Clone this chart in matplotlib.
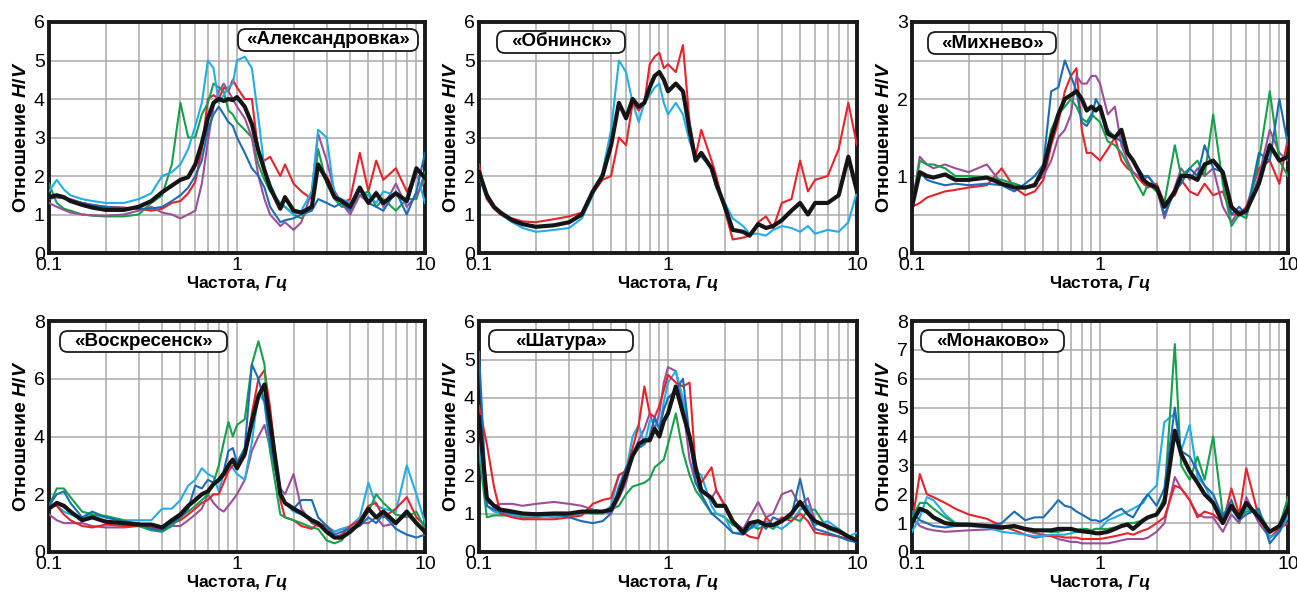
import matplotlib
matplotlib.use("Agg")
import matplotlib.pyplot as plt
from matplotlib.patches import FancyBboxPatch
from matplotlib.ticker import MultipleLocator, FixedLocator, NullFormatter, LogLocator

plt.rcParams['font.family'] = ['Liberation Sans', 'DejaVu Sans']
plt.rcParams['mathtext.fontset'] = 'custom'
plt.rcParams['mathtext.it'] = 'Liberation Sans:italic:bold'
plt.rcParams['mathtext.rm'] = 'Liberation Sans:bold'
plt.rcParams['mathtext.bf'] = 'Liberation Sans:bold'

freq = [0.1, 0.11, 0.12, 0.13, 0.15, 0.17, 0.2, 0.25, 0.3, 0.35, 0.4, 0.45, 0.5, 0.55,
        0.6, 0.65, 0.7, 0.75, 0.8, 0.85, 0.9, 0.95, 1.0, 1.1, 1.2, 1.3, 1.4, 1.5, 1.7,
        1.8, 2.0, 2.2, 2.5, 2.7, 3.0, 3.3, 3.6, 4.0, 4.5, 5.0, 5.5, 6.0, 7.0, 8.0, 9.0, 10.0]

station_names = ["«Александровка»", "«Обнинск»", "«Михнево»",
                 "«Воскресенск»", "«Шатура»", "«Монаково»"]
y_max = [6, 6, 3, 8, 6, 8]

# --- «Александровка»
alex_red = [1.45,1.45,1.42,1.4,1.3,1.25,1.2,1.18,1.15,1.1,1.15,1.3,1.35,1.55,1.85,2.7,4.0,4.1,4.0,4.3,4.2,4.5,4.3,4.0,4.0,2.6,2.4,2.5,2.0,2.3,1.8,1.6,1.4,2.2,2.0,1.6,1.3,1.4,2.6,1.6,2.4,1.9,2.2,1.6,2.0,2.0]
alex_green = [1.8,1.3,1.15,1.1,1.0,0.97,0.95,0.95,1.0,1.3,1.5,2.3,3.9,3.0,3.0,3.6,3.9,4.4,4.3,4.2,3.7,3.6,3.4,3.2,3.0,2.3,1.9,1.6,1.3,1.2,1.0,0.9,1.2,2.7,1.8,1.4,1.2,1.2,1.5,1.6,1.2,1.4,1.1,1.4,1.4,2.1]
alex_blue = [1.4,1.45,1.42,1.38,1.3,1.25,1.2,1.17,1.15,1.15,1.2,1.35,1.5,1.7,2.0,2.4,3.2,3.6,3.8,3.6,3.4,3.3,3.0,2.6,2.2,2.0,1.7,1.2,0.8,0.85,0.9,1.0,1.1,1.4,1.3,1.2,1.3,1.1,1.7,1.3,1.2,1.1,1.6,1.0,1.6,2.6]
alex_cyan = [1.6,1.9,1.65,1.5,1.4,1.35,1.3,1.3,1.4,1.55,2.0,2.1,2.3,2.7,3.3,3.9,5.0,4.8,3.9,4.1,4.3,4.4,5.0,5.1,4.8,3.5,2.2,1.8,1.2,1.2,1.0,1.1,1.6,3.2,3.0,1.5,1.4,1.3,1.6,1.5,1.3,1.6,1.5,1.3,2.1,1.3]
alex_purple = [1.3,1.2,1.12,1.05,1.0,0.98,0.97,1.0,1.1,1.2,1.05,1.0,0.9,1.0,1.1,1.8,2.9,3.8,4.2,4.4,4.2,4.0,3.8,3.5,3.0,2.0,1.4,1.0,0.7,0.8,0.6,0.8,1.6,3.1,2.4,1.6,1.3,1.0,1.5,1.3,1.6,1.2,1.8,1.2,1.5,1.9]
alex_mean = [1.45,1.5,1.45,1.35,1.25,1.18,1.12,1.12,1.2,1.35,1.58,1.75,1.9,1.97,2.3,2.85,3.5,3.9,4.0,3.95,4.0,3.97,4.05,3.8,3.35,2.65,2.15,1.7,1.15,1.45,1.1,1.05,1.2,2.3,1.9,1.45,1.35,1.2,1.7,1.3,1.55,1.3,1.55,1.35,2.2,1.95]

# --- «Обнинск»
obn_red = [2.3,1.4,1.15,1.0,0.9,0.82,0.8,0.88,0.95,1.05,1.55,1.9,2.0,3.0,2.8,3.9,3.7,3.9,4.9,5.1,5.2,4.8,4.9,4.7,5.4,3.4,2.5,3.2,2.4,2.0,1.1,0.35,0.4,0.45,0.8,0.95,0.65,1.3,1.4,2.4,1.6,1.9,2.0,2.7,3.9,2.8]
obn_cyan = [2.0,1.4,1.2,1.0,0.8,0.65,0.55,0.6,0.65,0.9,1.5,2.1,3.2,5.0,4.7,3.9,3.4,3.9,4.1,4.3,4.4,3.9,3.6,3.9,3.6,2.9,2.5,2.5,2.2,1.7,1.3,0.9,0.7,0.5,0.5,0.45,0.6,0.7,0.65,0.55,0.7,0.5,0.6,0.55,0.8,1.6]
obn_mean = [2.1,1.5,1.2,1.05,0.85,0.75,0.68,0.72,0.8,1.0,1.6,2.0,2.8,3.9,3.5,4.0,3.8,3.9,4.3,4.6,4.7,4.5,4.2,4.4,4.2,3.2,2.4,2.6,2.2,1.8,1.2,0.6,0.55,0.45,0.75,0.65,0.7,0.85,1.1,1.3,1.0,1.3,1.3,1.5,2.5,1.6]

# --- «Михнево»
mikh_red = [0.6,0.65,0.72,0.75,0.8,0.82,0.85,0.88,1.1,0.85,0.75,0.8,0.95,1.4,1.7,2.1,2.3,2.4,1.6,1.3,1.3,1.25,1.2,1.35,1.5,1.2,1.1,1.05,0.9,0.85,0.9,0.65,0.75,0.95,0.8,0.75,0.9,0.75,0.8,0.5,0.5,0.6,1.1,1.2,0.9,1.5]
mikh_green = [0.6,1.2,1.15,1.15,1.1,1.0,1.0,0.98,0.95,0.9,0.85,0.88,1.1,1.6,1.8,1.9,2.0,1.9,1.75,1.7,1.8,1.75,1.7,1.45,1.4,1.3,1.15,1.0,0.75,0.9,0.8,0.65,1.4,1.0,1.1,1.2,1.0,1.8,0.9,0.35,0.5,0.45,1.2,2.1,1.2,1.0]
mikh_blue = [0.6,1.05,0.95,0.92,0.88,0.9,0.88,0.9,0.88,0.8,0.9,1.0,1.15,2.1,2.15,2.5,2.3,2.1,1.7,1.65,1.75,2.0,1.9,1.6,1.5,1.45,1.3,1.2,1.0,1.0,0.85,0.5,0.8,0.9,1.1,1.0,1.4,1.1,1.05,0.5,0.6,0.5,1.3,1.2,2.0,1.4]
mikh_purple = [0.6,1.25,1.15,1.1,1.15,1.1,1.05,1.15,0.9,0.9,0.85,0.9,1.0,1.2,1.5,1.6,1.8,2.3,2.2,2.2,2.3,2.3,2.2,1.8,1.9,1.4,1.2,1.05,0.95,1.0,0.85,0.45,0.85,1.1,0.95,1.1,1.0,1.1,0.6,0.4,0.55,0.5,1.0,1.6,1.3,1.2]
mikh_mean = [0.6,1.05,1.0,0.98,1.02,0.95,0.95,0.98,0.9,0.85,0.85,0.88,1.1,1.5,1.8,2.0,2.05,2.1,2.0,1.85,1.9,1.85,1.9,1.55,1.5,1.6,1.3,1.2,0.95,0.9,0.85,0.6,0.8,1.0,1.0,0.95,1.15,1.2,1.05,0.6,0.5,0.55,0.9,1.4,1.2,1.25]

# --- «Воскресенск»
vosk_red = [1.6,1.6,1.3,1.1,0.9,0.85,0.95,0.9,0.9,0.85,0.8,1.0,1.1,1.3,1.5,1.7,1.8,2.0,2.0,2.4,2.8,3.0,3.0,3.3,4.8,6.0,6.3,5.0,1.8,1.2,1.1,0.9,0.8,1.0,0.9,0.5,0.6,0.9,1.1,1.6,1.7,1.2,1.5,1.9,1.2,0.9]
vosk_green = [1.6,2.2,2.2,1.9,1.4,1.3,1.25,1.1,0.9,0.75,0.7,0.9,1.2,1.4,1.6,1.8,2.0,2.4,3.0,3.8,4.5,4.0,4.4,4.6,6.5,7.3,6.5,3.5,1.3,1.2,1.1,1.0,0.85,0.8,0.4,0.3,0.4,0.8,1.0,1.4,2.0,1.7,1.3,1.2,1.4,0.8]
vosk_blue = [1.6,2.0,2.1,1.7,1.2,1.4,1.2,1.05,1.0,0.8,0.75,1.0,1.2,1.5,2.3,2.2,2.5,2.4,2.5,2.8,3.5,3.6,3.1,3.6,6.5,6.0,5.2,3.8,2.0,1.7,1.5,1.8,1.8,1.2,0.9,0.6,0.7,0.8,0.9,1.2,1.0,1.3,0.8,0.6,0.5,0.6]
vosk_cyan = [1.6,1.6,1.4,1.3,1.2,1.3,1.2,1.1,1.1,1.1,1.5,1.5,1.8,2.3,2.5,2.9,2.7,2.6,2.1,2.7,3.0,2.9,2.7,2.5,3.8,5.5,5.2,3.5,2.2,1.7,1.4,1.3,1.1,1.0,0.8,0.7,0.8,0.9,1.2,2.4,1.6,1.5,1.4,3.0,2.0,1.0]
vosk_purple = [1.3,1.1,1.0,1.0,1.0,0.9,0.85,0.85,0.9,0.85,0.8,0.9,0.9,1.1,1.3,1.5,2.0,1.7,1.5,1.4,1.6,1.8,2.0,2.5,3.5,4.0,4.4,3.6,2.2,2.0,2.7,1.5,1.0,0.9,0.9,0.7,0.8,0.8,1.0,1.0,1.2,0.9,1.0,1.3,1.0,0.7]
vosk_mean = [1.5,1.7,1.6,1.4,1.1,1.2,1.05,1.0,0.95,0.95,0.85,1.1,1.3,1.6,1.8,2.0,2.1,2.35,2.5,2.7,3.0,3.2,2.9,3.4,4.5,5.4,5.8,4.5,2.0,1.7,1.5,1.35,1.1,1.0,0.7,0.5,0.5,0.7,1.0,1.5,1.2,1.4,1.0,1.4,1.0,0.7]

# --- «Шатура»
shat_red = [3.8,2.8,1.7,1.0,0.9,0.85,0.85,0.85,0.9,0.95,1.25,1.35,1.4,2.0,2.1,2.7,3.3,4.3,3.6,3.5,3.8,4.2,4.6,4.4,4.3,4.4,2.2,1.8,2.2,1.6,1.2,0.8,0.5,0.4,0.35,0.9,0.7,0.9,0.8,1.0,0.8,0.5,0.45,0.4,0.35,0.3]
shat_green = [2.6,0.9,0.95,0.95,0.95,0.9,0.9,0.95,1.0,1.05,1.0,1.0,1.1,1.2,1.5,1.7,1.75,1.8,1.9,2.2,2.3,2.4,2.8,3.6,2.6,2.0,1.6,1.4,1.0,1.0,0.9,0.7,0.6,0.7,0.6,0.7,0.6,0.8,0.9,0.8,1.1,1.1,0.6,0.5,0.4,0.35]
shat_blue = [5.2,1.2,1.1,1.05,1.0,1.0,1.0,1.0,0.9,0.8,0.75,0.8,1.0,1.7,2.2,2.5,2.7,2.8,3.0,3.5,3.2,3.7,4.0,4.2,4.5,3.0,1.8,1.5,1.0,0.9,0.7,0.5,0.45,0.6,0.8,0.6,0.9,0.8,0.95,1.9,1.0,0.6,0.5,0.4,0.3,0.25]
shat_cyan = [2.8,1.2,1.05,1.0,0.95,0.95,0.95,0.9,0.95,1.0,1.1,1.0,1.2,2.0,2.1,3.0,3.3,2.8,3.4,3.4,3.2,3.9,4.4,4.7,4.0,3.0,2.1,2.0,1.2,1.0,0.9,0.5,0.5,0.6,0.7,0.8,0.7,0.6,0.8,1.1,1.2,0.7,0.8,0.6,0.4,0.5]
shat_purple = [3.0,1.3,1.2,1.25,1.25,1.2,1.25,1.3,1.25,1.2,1.1,1.05,1.0,1.4,1.8,2.5,2.9,3.2,3.6,3.2,3.6,4.4,4.8,4.7,3.8,2.4,1.8,1.6,1.4,1.6,1.2,0.8,0.6,0.9,1.3,0.9,1.0,1.5,1.6,1.2,1.4,0.8,0.7,0.5,0.4,0.3]
shat_mean = [3.5,1.4,1.2,1.1,1.05,1.0,0.98,1.0,1.0,1.05,1.05,1.05,1.1,1.5,2.0,2.5,2.8,2.9,2.9,3.2,3.0,3.4,3.6,4.3,3.6,3.0,2.2,1.6,1.4,1.2,1.2,0.8,0.5,0.75,0.8,0.7,0.7,0.8,1.0,1.3,1.0,0.8,0.65,0.55,0.4,0.3]

# --- «Монаково»
mon_red = [1.0,2.7,2.0,1.9,1.7,1.5,1.3,1.15,0.9,0.75,0.6,0.5,0.55,0.55,0.55,0.5,0.5,0.5,0.45,0.45,0.45,0.45,0.45,0.5,0.55,0.6,0.65,0.6,0.75,0.8,1.0,1.2,2.3,2.2,1.8,1.2,1.4,1.3,1.0,2.2,1.3,2.9,1.2,0.5,0.8,1.0]
mon_green = [1.2,1.7,1.7,1.5,1.2,1.0,0.95,0.9,0.85,0.85,0.8,0.7,0.75,0.7,0.7,0.75,0.8,0.75,0.8,0.8,0.75,0.8,0.8,0.8,0.85,0.9,1.0,1.0,1.1,1.2,1.3,1.9,7.2,3.0,2.5,3.3,2.5,4.0,1.3,1.6,1.2,1.4,1.4,0.7,0.9,1.9]
mon_blue = [1.4,1.1,1.0,0.9,0.85,0.9,0.9,0.9,1.0,1.4,1.1,1.2,1.2,1.5,1.8,1.6,1.55,1.4,1.3,1.2,1.1,1.1,1.05,1.2,1.4,1.5,1.3,1.2,1.8,2.0,1.6,2.2,5.0,3.5,3.3,2.8,2.3,2.0,1.2,1.8,1.1,1.3,1.5,0.3,0.7,1.4]
mon_cyan = [0.7,1.2,1.9,1.8,1.3,1.0,0.9,0.85,0.7,0.65,0.6,0.55,0.55,0.6,0.6,0.6,0.65,0.7,0.7,0.7,0.75,0.8,0.8,1.1,1.2,1.3,1.4,1.5,1.7,2.0,2.3,4.5,4.8,3.5,4.4,2.6,2.3,1.7,1.2,1.5,1.1,1.5,1.3,0.5,0.7,1.2]
mon_purple = [1.2,0.9,0.8,0.75,0.7,0.72,0.75,0.78,0.8,0.9,0.75,0.65,0.6,0.55,0.45,0.4,0.35,0.35,0.3,0.3,0.3,0.3,0.3,0.3,0.35,0.4,0.45,0.45,0.45,0.5,0.7,1.0,2.6,2.2,1.8,1.3,1.2,1.2,0.7,1.3,1.0,1.9,1.0,0.5,0.7,1.3]
mon_mean = [1.0,1.5,1.4,1.2,1.0,0.95,0.95,0.9,0.85,0.9,0.8,0.75,0.75,0.75,0.8,0.8,0.8,0.75,0.72,0.7,0.68,0.65,0.65,0.7,0.8,0.9,0.95,0.8,1.1,1.2,1.3,1.7,4.2,3.4,2.8,2.4,2.0,1.7,1.0,1.6,1.2,1.7,1.2,0.7,0.9,1.5]

colors = {"red": "#e8222b", "green": "#15a04b", "blue": "#1c6cb5",
          "cyan": "#22ade6", "purple": "#9b4e9a", "mean": "#151515"}

panels = [
    {"red": alex_red, "green": alex_green, "purple": alex_purple, "cyan": alex_cyan, "blue": alex_blue, "mean": alex_mean},
    {"cyan": obn_cyan, "red": obn_red, "mean": obn_mean},
    {"red": mikh_red, "purple": mikh_purple, "green": mikh_green, "blue": mikh_blue, "mean": mikh_mean},
    {"purple": vosk_purple, "cyan": vosk_cyan, "red": vosk_red, "green": vosk_green, "blue": vosk_blue, "mean": vosk_mean},
    {"green": shat_green, "purple": shat_purple, "cyan": shat_cyan, "red": shat_red, "blue": shat_blue, "mean": shat_mean},
    {"purple": mon_purple, "red": mon_red, "cyan": mon_cyan, "green": mon_green, "blue": mon_blue, "mean": mon_mean},
]

y_label_step = [1, 1, 1, 2, 1, 1]
y_grid_step = [1, 1, 0.5, 2, 1, 1]
# label boxes in figure pixels (x0, y0_top, x1, y1_top)
label_boxes = [(238, 29, 418, 51), (497, 31, 625, 53), (928, 32, 1056, 54),
               (60, 331, 227, 352), (489, 330, 633, 352), (921, 330, 1064, 352)]

W, H = 1297, 593
fig = plt.figure(figsize=(W / 100, H / 100), dpi=100)

col_left = [49, 479, 912]
col_w = [376, 378, 376]
row_top = [22, 321]
ax_h = 231

for i in range(6):
    r, c = divmod(i, 3)
    ax = fig.add_axes([col_left[c] / W, 1 - (row_top[r] + ax_h) / H, col_w[c] / W, ax_h / H])
    ax.set_xscale('log')
    ax.set_xlim(0.1, 10)
    ax.set_ylim(0, y_max[i])
    ax.xaxis.set_major_locator(FixedLocator([0.1, 1, 10]))
    ax.xaxis.set_minor_locator(LogLocator(base=10, subs=range(2, 10)))
    ax.xaxis.set_minor_formatter(NullFormatter())
    ax.set_xticklabels(['0.1', '1', '10'])
    ax.yaxis.set_major_locator(MultipleLocator(y_label_step[i]))
    ax.yaxis.set_minor_locator(MultipleLocator(y_grid_step[i]))
    ax.grid(True, which='both', color='#a9a9a9', linewidth=1.1)
    ax.set_axisbelow(True)
    ax.tick_params(which='both', length=0, labelsize=14)
    ax.tick_params(axis='x', pad=3)
    ax.tick_params(axis='y', pad=3)
    for s in ax.spines.values():
        s.set_linewidth(2.8)
        s.set_color('#1a1a1a')
    for key, vals in panels[i].items():
        if key == "mean":
            continue
        ax.plot(freq, vals, color=colors[key], linewidth=1.5, zorder=3)
    ax.plot(freq, panels[i]["mean"], color=colors["mean"], linewidth=3.0, zorder=4)
    ax.set_xlabel('Частота, $\\mathit{Гц}$', fontsize=12.5, fontweight='bold', labelpad=0)
    ax.set_ylabel('Отношение $\\mathit{H/V}$', fontsize=14, fontweight='bold', labelpad=3)

    x0, y0, x1, y1 = label_boxes[i]
    bx0, by0 = x0 / W, 1 - y1 / H
    bw, bh = (x1 - x0) / W, (y1 - y0) / H
    box = FancyBboxPatch((bx0, by0), bw, bh, transform=fig.transFigure,
                         boxstyle='round,pad=0,rounding_size=0.006',
                         mutation_aspect=W / H,
                         facecolor='white', edgecolor='#1a1a1a', linewidth=1.3, zorder=10)
    fig.patches.append(box)
    fig.text(bx0 + bw / 2, by0 + bh / 2, station_names[i], ha='center', va='center',
             fontsize=13.5, fontweight='bold', zorder=11)

fig.savefig('out.png', dpi=100)
